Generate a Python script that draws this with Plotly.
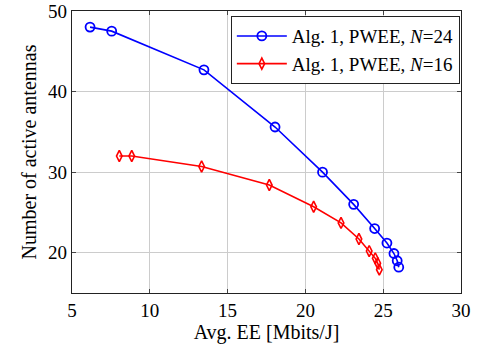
import plotly.graph_objects as go

ee_24 = [6.16, 7.55, 13.48, 18.05, 21.1, 23.1, 24.45, 25.24, 25.69, 25.9, 26.0]
n_24 = [48.0, 47.5, 42.7, 35.6, 30.0, 26.0, 23.0, 21.2, 19.9, 19.0, 18.2]
ee_16 = [8.04, 8.84, 13.33, 17.68, 20.53, 22.29, 23.44, 24.1, 24.49, 24.65, 24.75]
n_16 = [32.0, 32.0, 30.7, 28.4, 25.7, 23.7, 21.7, 20.2, 19.3, 18.7, 17.9]
x_ticks = [5, 10, 15, 20, 25, 30]
y_ticks = [20, 30, 40, 50]

font = "Liberation Serif"
fig = go.Figure()
fig.add_trace(go.Scatter(x=ee_24, y=n_24, mode="lines+markers",
                         name="Alg. 1, PWEE, <i>N</i>=24",
                         line=dict(color="#0000ff", width=1.6),
                         marker=dict(symbol="circle-open", size=9, color="#0000ff",
                                     line=dict(width=1.8, color="#0000ff"))))
fig.add_trace(go.Scatter(x=ee_16, y=n_16, mode="lines+markers",
                         name="Alg. 1, PWEE, <i>N</i>=16",
                         line=dict(color="#ff0000", width=1.6),
                         marker=dict(symbol="diamond-tall-open", size=8, color="#ff0000",
                                     line=dict(width=1.6, color="#ff0000"))))
axis_common = dict(showgrid=True, gridcolor="#cccccc", gridwidth=1, zeroline=False,
                   showline=True, linecolor="#222222", linewidth=1.2, mirror="allticks",
                   ticks="inside", ticklen=4, tickcolor="#444444", automargin=False,
                   tickfont=dict(family=font, size=19, color="#000"),
                   title_font=dict(family=font, size=20, color="#000"))
fig.update_xaxes(range=[5, 30], tickvals=x_ticks, title_text="Avg. EE [Mbits/J]",
                 title_standoff=4, **axis_common)
fig.update_yaxes(range=[15, 50], tickvals=y_ticks, title_text="Number of active antennas",
                 title_standoff=6, **axis_common)
fig.update_layout(width=484, height=348, margin=dict(l=72, r=23, t=11, b=55),
                  plot_bgcolor="white", paper_bgcolor="white",
                  font=dict(family=font, size=19, color="#000"),
                  showlegend=True,
                  legend=dict(x=0.997, y=0.982, xanchor="right", yanchor="top",
                              bgcolor="white", bordercolor="#222222", borderwidth=1,
                              font=dict(family=font, size=19), tracegroupgap=0,
                              itemwidth=50))
fig.write_html("out.html")
